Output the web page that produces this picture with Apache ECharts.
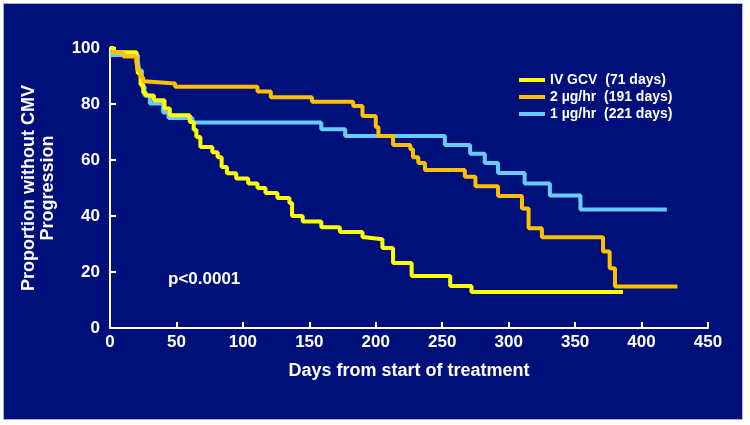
<!DOCTYPE html>
<html>
<head>
<meta charset="utf-8">
<script src="https://cdn.jsdelivr.net/npm/echarts@6/dist/echarts.min.js"></script>
<style>
  html, body { margin: 0; padding: 0; background: #fff; }
  #chart { width: 750px; height: 425px; }
</style>
</head>
<body>
<div id="chart"></div>
<script>
// Kaplan-Meier curves: [day, proportion without progression]
const seriesNames = ['IV GCV  (71 days)', '2 \u00b5g/hr  (191 days)', '1 \u00b5g/hr  (221 days)'];

const ivGcv = [
    [0, 100], [3, 98.5], [20, 95], [21, 91], [23, 87], [25, 84], [27, 83], [33, 81.3],
    [41, 78.4], [45, 76], [60, 73.6], [63, 70.8], [65, 68.2], [68, 64.6], [77, 62.8],
    [81, 61], [84, 57.5], [88, 55.3], [95, 53.4], [104, 51.6], [111, 50], [117, 48.2],
    [126, 46.4], [135, 44.6], [137, 40], [145, 38], [159, 36], [173, 34.3], [190, 32.4],
    [192, 31.7], [205, 28.6], [213, 23.2], [227, 18.6], [256, 15], [272, 12.9], [386, 12.9]
];

const dose2 = [
    [0, 98.5], [10, 97], [20, 95], [21, 92], [23, 89.5], [25, 88], [28, 87.3], [49, 86.2],
    [111, 84.5], [121, 82.4], [152, 80.8], [183, 79.3], [190, 75.7], [200, 71.8],
    [202, 68.6], [213, 65.4], [226, 63.8], [228, 61], [232, 58.9], [237, 56.4], [267, 54],
    [275, 50.6], [292, 47.1], [310, 42.7], [315, 35.6], [325, 32.4], [371, 27.3],
    [376, 21.3], [380, 14.8], [427, 14.8]
];

const dose1 = [
    [0, 97.5], [21, 95], [22, 92], [24, 86.2], [26, 83], [30, 80.2], [40, 77], [44, 75],
    [62, 73.4], [159, 71], [177, 68.6], [252, 65.4], [271, 62.2], [282, 58.9], [292, 55.4],
    [312, 51.6], [331, 47.3], [354, 42.3], [419, 42.3]
];

const colors = ['#ffff00', '#ffc000', '#66ccff'];
const xTicks = { min: 0, max: 450, interval: 50 };
const yTicks = { min: 0, max: 100, interval: 20 };

const chart = echarts.init(document.getElementById('chart'));

const font = 'Liberation Sans, Arial, sans-serif';
const axisLine = { show: true, lineStyle: { color: '#ffffff', width: 2 } };

function kmSeries(name, data, color, z) {
    return {
        name: name,
        type: 'line',
        step: 'end',
        data: data,
        showSymbol: false,
        z: z,
        lineStyle: { color: color, width: 4 },
        itemStyle: { color: color }
    };
}

chart.setOption({
    backgroundColor: '#ffffff',
    animation: false,
    graphic: [
        {
            type: 'rect', z: -10,
            shape: { x: 3.5, y: 3.5, width: 739, height: 416 },
            style: { fill: '#00107a', stroke: '#aab0e0', lineWidth: 1 }
        },
        {
            type: 'text', left: 168, top: 271, z: 10,
            style: { text: 'p<0.0001', fill: '#ffffff', font: 'bold 17px ' + font }
        }
    ],
    grid: { left: 110, right: 42, top: 48, bottom: 97 },
    legend: {
        orient: 'vertical',
        left: 514,
        top: 68,
        itemWidth: 26,
        itemHeight: 4,
        itemGap: 3,
        icon: 'rect',
        textStyle: { color: '#ffffff', fontSize: 14, fontWeight: 'bold', fontFamily: font, lineHeight: 14 },
        data: seriesNames
    },
    xAxis: {
        type: 'value',
        min: xTicks.min, max: xTicks.max, interval: xTicks.interval,
        name: 'Days from start of treatment',
        nameLocation: 'middle',
        nameGap: 34,
        nameTextStyle: { color: '#ffffff', fontSize: 18, fontWeight: 'bold', fontFamily: font },
        axisLine: axisLine,
        axisTick: { show: true, inside: true, length: 6, lineStyle: { color: '#ffffff', width: 2 } },
        axisLabel: { color: '#ffffff', fontSize: 17, fontWeight: 'bold', fontFamily: font, margin: 6 },
        splitLine: { show: false }
    },
    yAxis: {
        type: 'value',
        min: yTicks.min, max: yTicks.max, interval: yTicks.interval,
        name: 'Proportion without CMV\nProgression',
        nameLocation: 'middle',
        nameGap: 52,
        nameRotate: 90,
        nameTextStyle: { color: '#ffffff', fontSize: 18, fontWeight: 'bold', fontFamily: font, lineHeight: 19 },
        axisLine: axisLine,
        axisTick: { show: true, inside: true, length: 6, lineStyle: { color: '#ffffff', width: 2 } },
        axisLabel: { color: '#ffffff', fontSize: 17, fontWeight: 'bold', fontFamily: font, margin: 10 },
        splitLine: { show: false }
    },
    series: [
        kmSeries(seriesNames[2], dose1, colors[2], 2),
        kmSeries(seriesNames[0], ivGcv, colors[0], 3),
        kmSeries(seriesNames[1], dose2, colors[1], 4)
    ]
});
</script>
</body>
</html>
